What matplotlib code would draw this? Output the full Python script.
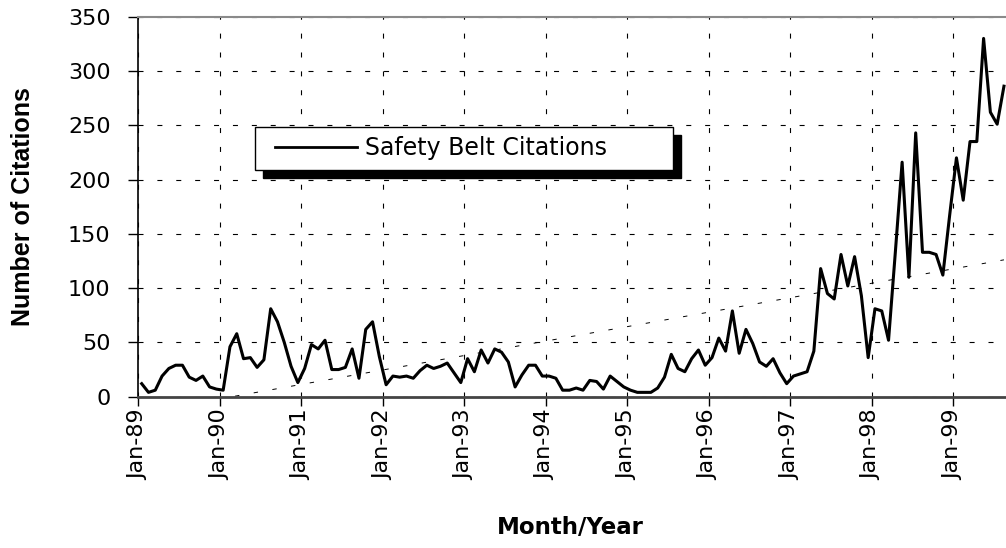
import matplotlib
matplotlib.use("Agg")
import matplotlib.pyplot as plt
import numpy as np
from matplotlib.legend_handler import HandlerLine2D

# monthly safety belt citations, Jan-89 .. Aug-99
citations = [
    12, 4, 6, 19, 26, 29, 29, 18, 15, 19, 9, 7,            # 1989
    6, 46, 58, 35, 36, 27, 34, 81, 69, 50, 28, 13,         # 1990
    26, 48, 44, 52, 25, 25, 27, 44, 17, 62, 69, 37,        # 1991
    11, 19, 18, 19, 17, 24, 29, 26, 28, 31, 22, 13,        # 1992
    35, 23, 43, 31, 44, 41, 32, 9, 20, 29, 29, 19,         # 1993
    19, 17, 6, 6, 8, 6, 15, 14, 7, 19, 14, 9,              # 1994
    6, 4, 4, 4, 8, 18, 39, 26, 23, 35, 43, 29,             # 1995
    36, 54, 42, 79, 40, 62, 49, 32, 28, 35, 22, 12,        # 1996
    19, 21, 23, 42, 118, 95, 90, 131, 102, 129, 93, 36,    # 1997
    81, 79, 52, 133, 216, 110, 243, 133, 133, 131, 112, 167,  # 1998
    220, 181, 235, 235, 330, 262, 251, 286,                # 1999
]
year_labels = ["Jan-89", "Jan-90", "Jan-91", "Jan-92", "Jan-93", "Jan-94",
               "Jan-95", "Jan-96", "Jan-97", "Jan-98", "Jan-99"]
y_ticks = [0, 50, 100, 150, 200, 250, 300, 350]

months = np.arange(len(citations)) + 0.5   # points sit mid-category
year_ticks = np.arange(len(year_labels)) * 12

# linear trend of the series (Excel-style trendline)
slope, intercept = np.polyfit(months, citations, 1)
trend = slope * months + intercept

W, H = 1006, 548
fig = plt.figure(figsize=(W / 100, H / 100), dpi=100)
fig.patch.set_facecolor("white")
ax = fig.add_axes([138.3 / W, 1 - 396.7 / H, 1 - 138.3 / W, 380 / H])

# grid
ax.grid(True, color="black", linewidth=0.8, linestyle=(0, (4.5, 12.5)), zorder=0)

ax.plot(months, trend, color="black", linewidth=0.7,
        linestyle=(0, (4.5, 15)), zorder=2)
line, = ax.plot(months, citations, color="black", linewidth=2.2, zorder=3,
                label="Safety Belt Citations")

ax.set_xlim(0, 127.8)
ax.set_ylim(0, 350)
ax.set_xticks(year_ticks)
ax.set_xticklabels(year_labels, rotation=90, family="DejaVu Sans", fontsize=16)
ax.set_yticks(y_ticks)
ax.set_yticklabels([str(v) for v in y_ticks], family="DejaVu Sans", fontsize=16)
ax.tick_params(axis="x", direction="out", length=6.5, width=1, pad=2.5)
ax.tick_params(axis="y", direction="out", length=7, width=1, pad=13)

ax.spines["right"].set_visible(False)
ax.spines["top"].set_color("#8a8a8a")
ax.spines["top"].set_linewidth(1.5)
ax.spines["left"].set_color("black")
ax.spines["left"].set_linewidth(1.2)
ax.spines["bottom"].set_color("#444444")
ax.spines["bottom"].set_linewidth(2.0)

ax.set_ylabel("Number of Citations", fontsize=18, fontweight="bold",
              family="Liberation Sans")
ax.yaxis.label.set(ha="center", va="center")
ax.yaxis.set_label_coords(-0.133, 0.5)
ax.set_xlabel("Month/Year", fontsize=16.5, fontweight="bold", family="DejaVu Sans")
ax.xaxis.label.set(ha="center", va="center")
ax.xaxis.set_label_coords(0.4975, -0.3455)

# legend box with hard black drop shadow
fs = 17
leg = ax.legend(handles=[line], loc="upper left",
                bbox_to_anchor=(255 / W, 1 - 173 / H, 418 / W, 46 / H),
                bbox_transform=fig.transFigure, mode="expand", borderaxespad=0,
                fancybox=False, framealpha=1, edgecolor="black",
                shadow={"ox": 5.8, "oy": -5.8, "color": "black", "alpha": 1},
                prop={"family": "DejaVu Sans", "size": fs},
                borderpad=0.4, handlelength=3.92, handletextpad=0.34,
                handler_map={line: HandlerLine2D(xpad=0.45)})
leg.get_frame().set_linewidth(1.0)
leg.get_lines()[0].set_linewidth(2.0)

fig.savefig("out.png", dpi=100, facecolor="white")
